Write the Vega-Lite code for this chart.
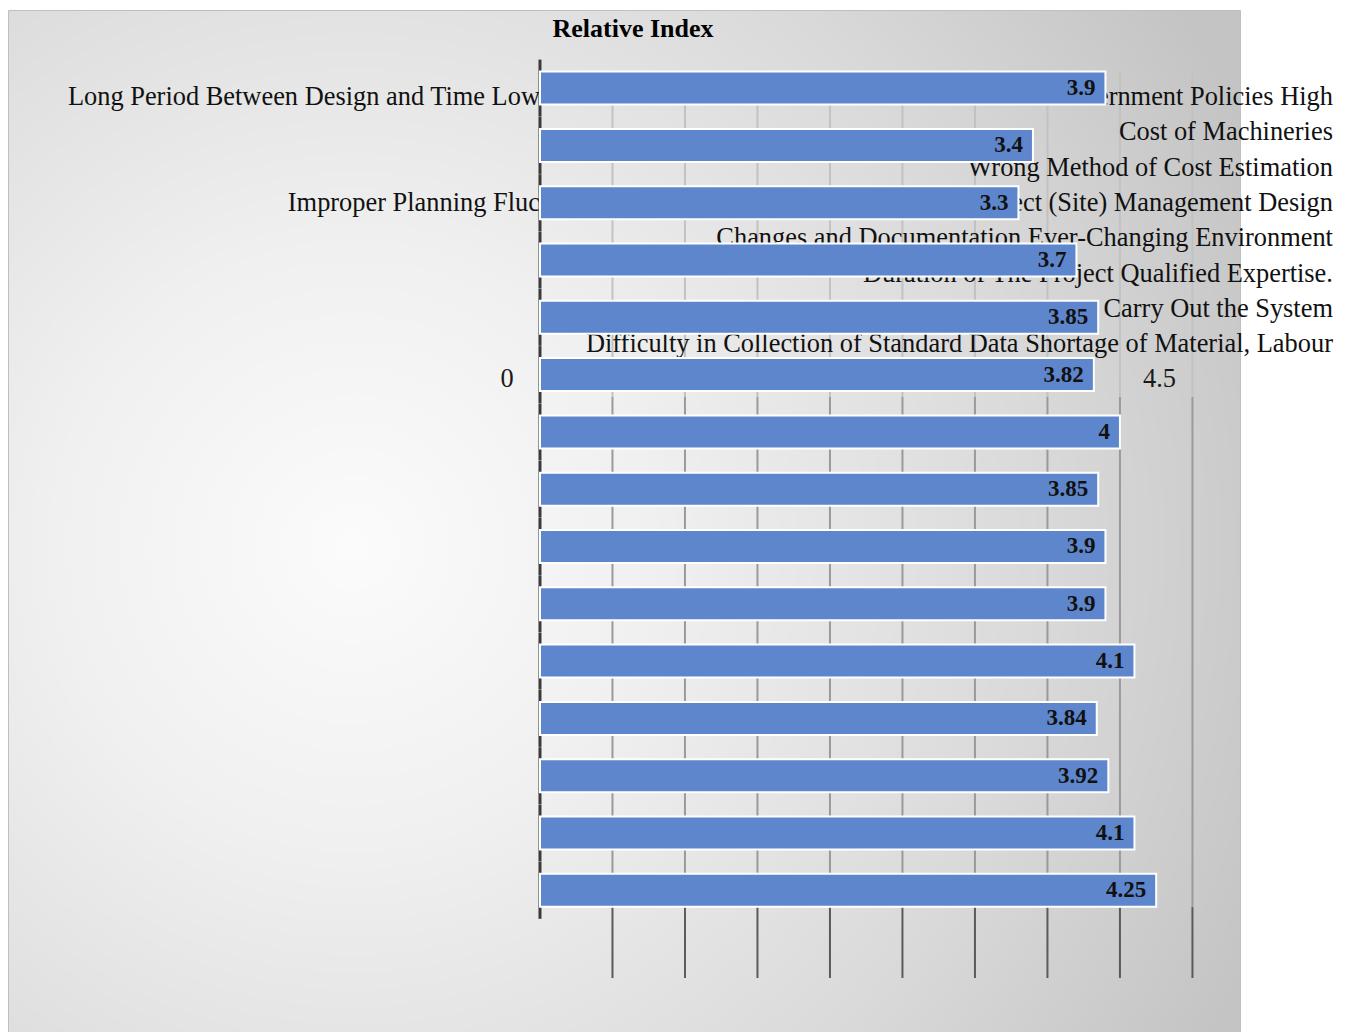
{
  "$schema": "https://vega.github.io/schema/vega-lite/v6.json",
  "width": 1232,
  "height": 1022,
  "autosize": {"type": "none"},
  "padding": {"left": 8, "top": 10, "right": 113, "bottom": 0},
  "background": "#ffffff",
  "config": {
    "view": {
      "fill": {"gradient": "radial", "x1": 0.28, "y1": 0.52, "r1": 0, "x2": 0.28, "y2": 0.52, "r2": 0.8,
        "stops": [{"offset": 0, "color": "#fbfbfb"}, {"offset": 0.3, "color": "#f0f0f0"}, {"offset": 0.7, "color": "#d9d9d9"}, {"offset": 1, "color": "#c4c4c4"}]},
      "stroke": "#bfbfbf",
      "strokeWidth": 1
    }
  },
  "title": {"text": "Relative Index", "font": "Liberation Serif", "fontSize": 26, "fontWeight": "bold", "color": "#000000", "anchor": "middle", "baseline": "middle", "offset": -45, "dx": 9},
  "datasets": {
    "bars": [
      {"factor": "Long Period Between Design and Time", "ri": 3.9},
      {"factor": "Low Budget Allocation", "ri": 3.4},
      {"factor": "Inappropriate Government Policies", "ri": 3.3},
      {"factor": "High Cost of Machineries", "ri": 3.7},
      {"factor": "Wrong Method of Cost Estimation", "ri": 3.85},
      {"factor": "Improper Planning", "ri": 3.82},
      {"factor": "Fluctuation of Prices", "ri": 4},
      {"factor": "Poor Project (Site) Management", "ri": 3.85},
      {"factor": "Design Changes and Documentation", "ri": 3.9},
      {"factor": "Ever-Changing Environment", "ri": 3.9},
      {"factor": "Duration of The Project", "ri": 4.1},
      {"factor": "Qualified Expertise to Carry Out the System", "ri": 3.84},
      {"factor": "Difficulty in Collection of Standard Data", "ri": 3.92},
      {"factor": "Shortage of Material, Labour", "ri": 4.1},
      {"factor": "Other Factors", "ri": 4.25}
    ],
    "lines": [
      {"line": 1, "part": "left", "text": "Long Period Between Design and Time Low"},
      {"line": 1, "part": "right", "text": "Government Policies High"},
      {"line": 2, "part": "right", "text": "Cost of Machineries"},
      {"line": 3, "part": "right", "text": "Wrong Method of Cost Estimation"},
      {"line": 4, "part": "left", "text": "Improper Planning Fluc"},
      {"line": 4, "part": "right", "text": "Poor Project (Site) Management Design"},
      {"line": 5, "part": "right", "text": "Changes and Documentation Ever-Changing Environment"},
      {"line": 6, "part": "right", "text": "Duration of The Project Qualified Expertise."},
      {"line": 7, "part": "right", "text": "Carry Out the System"},
      {"line": 8, "part": "right", "text": "Difficulty in Collection of Standard Data Shortage of Material, Labour"}
    ],
    "axisLabels": [{"v": 0}, {"v": 4.5}],
    "gridlines": [{"g": 0.5}, {"g": 1}, {"g": 1.5}, {"g": 2}, {"g": 2.5}, {"g": 3}, {"g": 3.5}, {"g": 4}, {"g": 4.5}]
  },
  "layer": [
    {
      "layer": [
        {
          "data": {"name": "gridlines"},
          "mark": {"type": "rule", "color": "#c2c2c2", "strokeWidth": 2},
          "encoding": {
            "x": {"field": "g", "type": "quantitative", "scale": {"domain": [-3.669, 4.828], "nice": false, "zero": false}, "axis": null},
            "y": {"datum": 0.292, "type": "quantitative", "scale": {"domain": [-1.465, 27.487], "reverse": true, "nice": false, "zero": false}, "axis": null},
            "y2": {"datum": 9.5}
          }
        },
        {
          "data": {"name": "gridlines"},
          "mark": {"type": "rule", "color": "#9a9a9a", "strokeWidth": 2},
          "encoding": {
            "x": {"field": "g", "type": "quantitative", "scale": {"domain": [-3.669, 4.828], "nice": false, "zero": false}, "axis": null},
            "y": {"datum": 9.5, "type": "quantitative", "scale": {"domain": [-1.465, 27.487], "reverse": true, "nice": false, "zero": false}, "axis": null},
            "y2": {"datum": 23.95}
          }
        },
        {
          "data": {"name": "gridlines"},
          "mark": {"type": "rule", "color": "#5a5a5a", "strokeWidth": 2},
          "encoding": {
            "x": {"field": "g", "type": "quantitative", "scale": {"domain": [-3.669, 4.828], "nice": false, "zero": false}, "axis": null},
            "y": {"datum": 23.95, "type": "quantitative", "scale": {"domain": [-1.465, 27.487], "reverse": true, "nice": false, "zero": false}, "axis": null},
            "y2": {"datum": 25.958}
          }
        },
        {
          "data": {"name": "lines"},
          "transform": [{"filter": "datum.part === 'left'"}],
          "mark": {"type": "text", "align": "right", "baseline": "middle", "font": "Liberation Serif", "fontSize": 26.4, "color": "#111111"},
          "encoding": {
            "x": {"datum": 0, "type": "quantitative", "scale": {"domain": [-3.669, 4.828], "nice": false, "zero": false}, "axis": null},
            "y": {"field": "line", "type": "quantitative", "scale": {"domain": [-1.465, 27.487], "reverse": true, "nice": false, "zero": false}, "axis": null},
            "text": {"field": "text", "type": "nominal"}
          }
        },
        {
          "data": {"name": "lines"},
          "transform": [{"filter": "datum.part === 'right'"}],
          "mark": {"type": "text", "align": "right", "baseline": "middle", "font": "Liberation Serif", "fontSize": 26.4, "color": "#111111"},
          "encoding": {
            "x": {"datum": 5.469, "type": "quantitative", "scale": {"domain": [-3.669, 4.828], "nice": false, "zero": false}, "axis": null},
            "y": {"field": "line", "type": "quantitative", "scale": {"domain": [-1.465, 27.487], "reverse": true, "nice": false, "zero": false}, "axis": null},
            "text": {"field": "text", "type": "nominal"}
          }
        },
        {
          "data": {"name": "axisLabels"},
          "mark": {"type": "text", "align": "center", "baseline": "middle", "dx": -33, "font": "Liberation Serif", "fontSize": 26.4, "color": "#1a1a1a"},
          "encoding": {
            "x": {"field": "v", "type": "quantitative", "scale": {"domain": [-3.669, 4.828], "nice": false, "zero": false}, "axis": null},
            "y": {"datum": 9, "type": "quantitative", "scale": {"domain": [-1.465, 27.487], "reverse": true, "nice": false, "zero": false}, "axis": null},
            "text": {"field": "v", "type": "quantitative", "format": "~g"}
          }
        }
      ]
    },
    {
      "data": {"name": "bars"},
      "layer": [
        {
          "mark": {"type": "tick", "orient": "vertical", "size": 57, "thickness": 3, "color": "#3a3a3a", "opacity": 1},
          "encoding": {
            "x": {"datum": 0, "type": "quantitative", "scale": {"domain": [-3.669, 4.828], "nice": false, "zero": false}, "axis": null},
            "y": {"field": "factor", "type": "nominal", "sort": null, "axis": null}
          }
        },
        {
          "mark": {"type": "bar", "color": "#5d86cc", "stroke": "#ffffff", "strokeWidth": 2},
          "encoding": {
            "x": {"field": "ri", "type": "quantitative", "scale": {"domain": [-3.669, 4.828], "nice": false, "zero": false}, "axis": null},
            "x2": {"datum": 0},
            "y": {"field": "factor", "type": "nominal", "sort": null, "scale": {"type": "band", "paddingInner": 0.424, "paddingOuter": 0, "range": [61.6, 896.8]}, "axis": null}
          }
        },
        {
          "mark": {"type": "text", "align": "right", "baseline": "middle", "dx": -10, "font": "Liberation Serif", "fontSize": 23, "fontWeight": "bold", "color": "#111111"},
          "encoding": {
            "x": {"field": "ri", "type": "quantitative", "scale": {"domain": [-3.669, 4.828], "nice": false, "zero": false}, "axis": null},
            "y": {"field": "factor", "type": "nominal", "sort": null, "axis": null},
            "text": {"field": "ri", "type": "quantitative", "format": "~g"}
          }
        }
      ]
    }
  ],
  "resolve": {"scale": {"y": "independent"}}
}
